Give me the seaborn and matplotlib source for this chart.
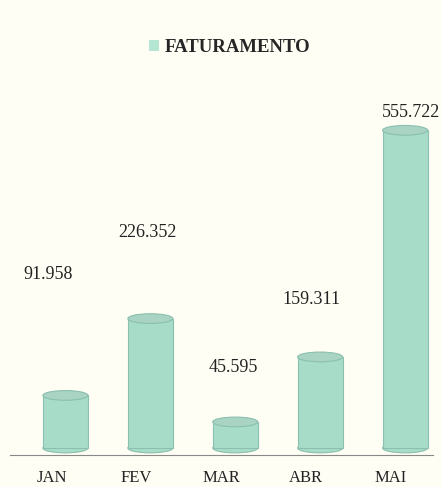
import matplotlib
matplotlib.use("Agg")
import matplotlib.pyplot as plt
import matplotlib.transforms as mtransforms
import seaborn as sns
import pandas as pd
from matplotlib.patches import Ellipse, Patch

months = ["JAN", "FEV", "MAR", "ABR", "MAI"]
faturamento = [91958, 226352, 45595, 159311, 555722]
value_labels = ["91.958", "226.352", "45.595", "159.311", "555.722"]
# where the labels were placed in the original (x shift in bar slots, y in thousands)
label_dx = [-0.2, -0.035, -0.02, -0.1, 0.07]
label_y = [303, 377, 140, 259, 586]

df = pd.DataFrame({"Mes": months, "Valor": [v / 1000 for v in faturamento]})

sns.set_style("white")
plt.rcParams["font.family"] = ["Liberation Serif", "DejaVu Serif"]

bg = "#fffef4"
bar_color = "#a6dcc8"
top_color = "#a9d4c4"
edge = "#8bbfae"

fig = plt.figure(figsize=(4.42, 4.87), dpi=100, facecolor=bg)
ax = fig.add_axes([0.023, 0.066, 0.957, 0.729], facecolor=bg)

sns.barplot(data=df, x="Mes", y="Valor", color=bar_color, width=0.53,
            saturation=1, ax=ax, zorder=2)

ell_h = 17
for p in ax.patches:
    cx = p.get_x() + p.get_width() / 2
    w = p.get_width()
    top = p.get_height()
    p.set_edgecolor(edge)
    p.set_linewidth(0.8)
    ax.add_patch(Ellipse((cx, 0), w, ell_h, facecolor=bar_color,
                         edgecolor=edge, lw=0.8, zorder=1))
    ax.add_patch(Ellipse((cx, top), w, ell_h, facecolor=top_color,
                         edgecolor=edge, lw=0.8, zorder=3))

for i, (txt, dx, y) in enumerate(zip(value_labels, label_dx, label_y)):
    ax.text(i + dx, y, txt, ha="center", va="center", fontsize=13,
            color="#222222")

ax.set_xlim(-0.65, 4.33)
ax.set_ylim(-12, 609)
ax.set_xlabel("")
ax.set_ylabel("")
ax.set_yticks([])
for s in ["top", "left", "right"]:
    ax.spines[s].set_visible(False)
ax.spines["bottom"].set_color("#888888")
ax.spines["bottom"].set_linewidth(0.8)
ax.tick_params(axis="x", length=0, pad=11, labelsize=12, colors="#222222")
shift = mtransforms.ScaledTranslation(-14 / 100, 0, fig.dpi_scale_trans)
for lbl in ax.get_xticklabels():
    lbl.set_transform(lbl.get_transform() + shift)

handle = Patch(facecolor="#b5e6d3", edgecolor="none")
fig.legend([handle], ["FATURAMENTO"], loc="center", bbox_to_anchor=(0.52, 0.902),
           frameon=False, handlelength=0.55, handleheight=0.55, handletextpad=0.3,
           prop={"weight": "bold", "size": 13.5})

fig.savefig("out.png", dpi=100, facecolor=bg)
